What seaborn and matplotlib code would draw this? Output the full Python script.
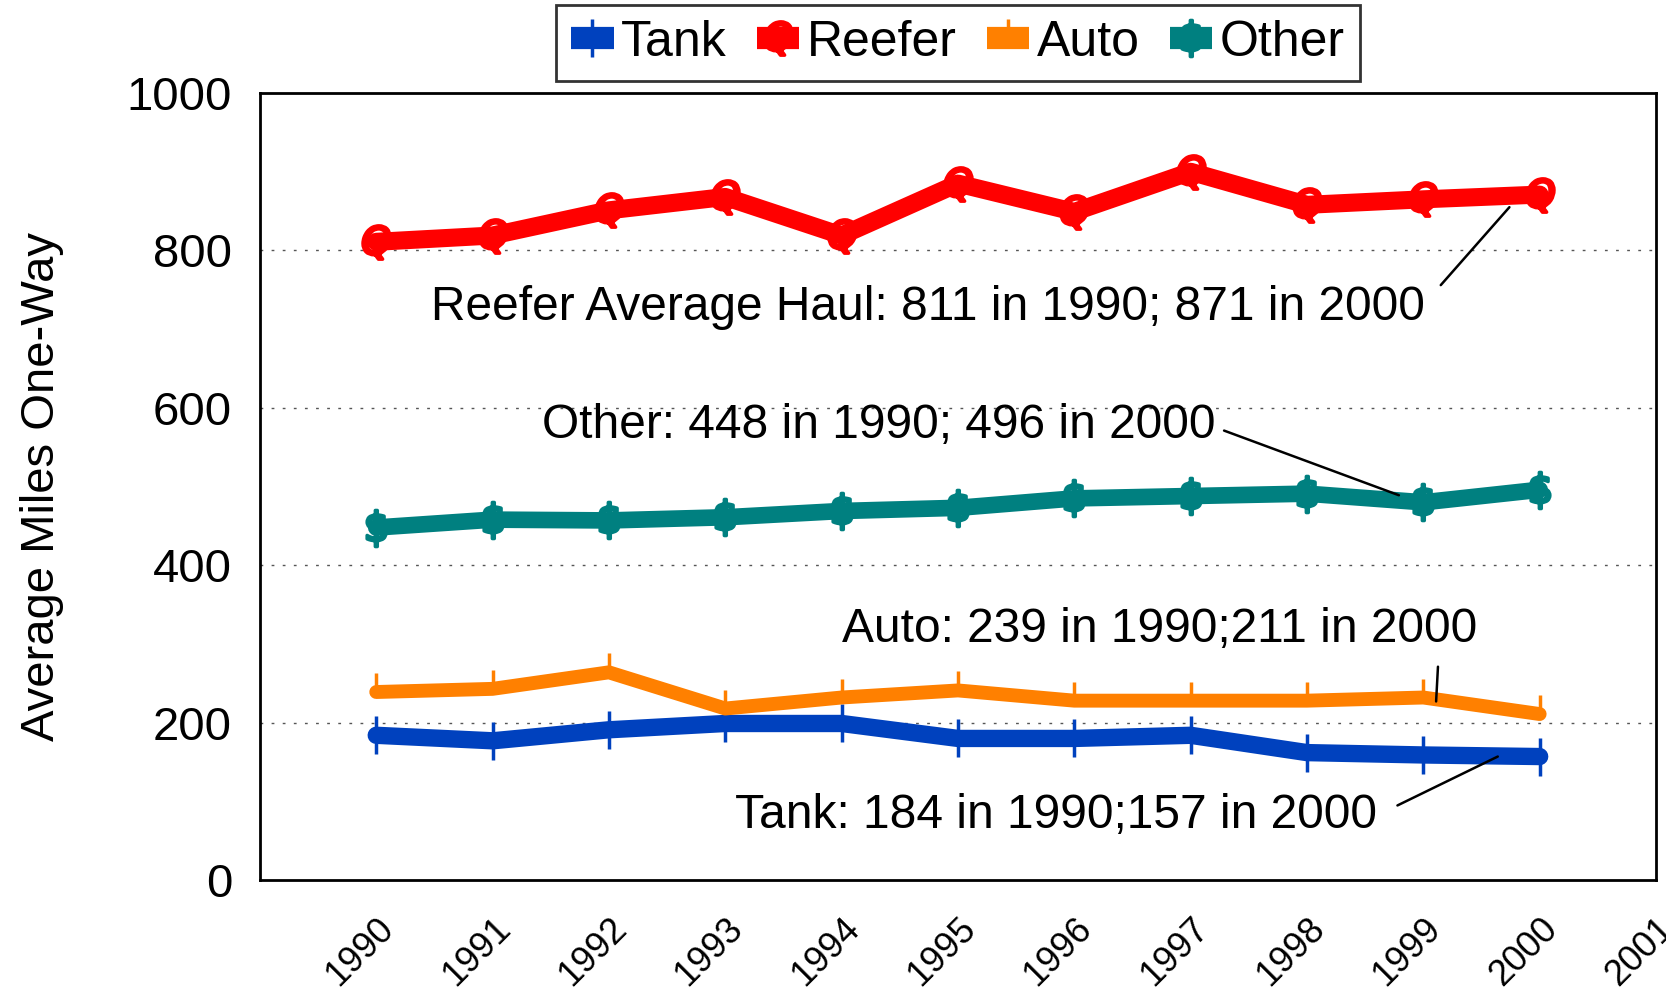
import matplotlib
matplotlib.use("Agg")
import matplotlib.pyplot as plt
import seaborn as sns
import numpy as np
import pandas as pd

# data
years = list(range(1990, 2001))
tank = [184, 177, 191, 199, 199, 180, 180, 184, 162, 159, 157]
reefer = [811, 819, 851, 868, 819, 885, 849, 900, 858, 865, 871]
auto = [239, 243, 264, 218, 232, 241, 228, 228, 228, 232, 211]
other = [448, 458, 457, 461, 469, 473, 485, 488, 491, 480, 496]

series_names = ['Tank', 'Reefer', 'Auto', 'Other']
series_values = [tank, reefer, auto, other]
colors = ['#0041BE', '#FF0000', '#FF8000', '#008080']
markers = ['|', '$Q$', 2, r'$\$$']
msizes = [28, 24, 14, 26]
lwidths = [12.5, 13, 10, 12]

sns.set_theme(style='white')
plt.rcParams['font.family'] = ['Liberation Sans', 'DejaVu Sans']
for k in ['text.color', 'axes.labelcolor', 'xtick.color', 'ytick.color']:
    plt.rcParams[k] = 'black'

fig = plt.figure(figsize=(16.66, 9.9), dpi=100)
ax = fig.add_axes([0.156, 0.111, 0.838, 0.795])

for name, vals, c, m, ms, lw in zip(series_names, series_values, colors, markers, msizes, lwidths):
    df = pd.DataFrame({'Year': years, 'Miles': vals})
    sns.lineplot(data=df, x='Year', y='Miles', ax=ax, color=c, linewidth=lw,
                 marker=m, markersize=ms, markeredgewidth=2.5, markeredgecolor=c,
                 markerfacecolor=c, label=name, solid_capstyle='round')

ax.set_xlim(1989, 2001)
ax.set_ylim(0, 1000)
ax.set_xticks(range(1990, 2002))
ax.set_xticklabels([str(y) for y in range(1990, 2002)], rotation=45, ha='right',
                   rotation_mode='anchor', fontsize=26)
ax.set_yticks(range(0, 1001, 200))
ax.tick_params(axis='y', labelsize=34, length=0, pad=20)
ax.tick_params(axis='x', length=0, pad=22)
ax.set_xlabel('')
ax.set_ylabel('Average Miles One-Way', fontsize=34, labelpad=45)

for yv in [200, 400, 600, 800]:
    ax.axhline(yv, color='#555555', linestyle=(0, (2, 6)), linewidth=1, zorder=0)

for s in ax.spines.values():
    s.set_visible(True)
    s.set_color('black')
    s.set_linewidth(2)

ann = dict(fontsize=34.5, color='black', ha='center', va='center')
line = dict(arrowstyle='-', color='black', lw=1.8, shrinkB=0)
ax.annotate('Reefer Average Haul: 811 in 1990; 871 in 2000', xy=(1999.74, 855),
            xytext=(1994.74, 727),
            arrowprops=dict(relpos=(1, 0.6), shrinkA=14, **line), **ann)
ax.annotate('Other: 448 in 1990; 496 in 2000', xy=(1998.79, 489),
            xytext=(1994.32, 578),
            arrowprops=dict(relpos=(1, 0.45), shrinkA=4, **line), **ann)
ax.annotate('Auto: 239 in 1990;211 in 2000', xy=(1999.11, 227),
            xytext=(1996.73, 318),
            arrowprops=dict(relpos=(0.94, 0.0), shrinkA=8, **line), **ann)
ax.annotate('Tank: 184 in 1990;157 in 2000', xy=(1999.64, 157),
            xytext=(1995.84, 82),
            arrowprops=dict(relpos=(1, 0.5), shrinkA=14, **line), **ann)

leg = ax.legend(loc='lower center', bbox_to_anchor=(0.5, 1.0), ncol=4,
                fontsize=36, frameon=True, fancybox=False, edgecolor='black',
                handlelength=0.85, handletextpad=0.15, columnspacing=0.6,
                borderpad=0.3, borderaxespad=0.25)
leg.get_frame().set_linewidth(2)
for lg in leg.get_lines():
    lg.set_linewidth(16)
    lg.set_solid_capstyle('butt')

fig.savefig('out.png', dpi=100)
